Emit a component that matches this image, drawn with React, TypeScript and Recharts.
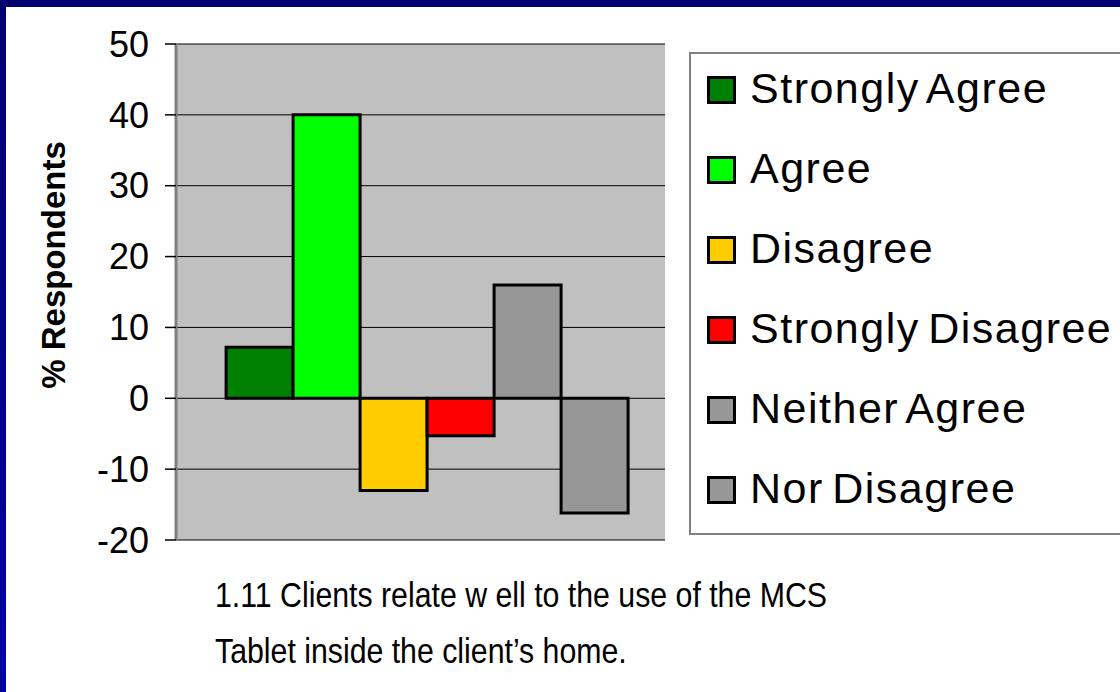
import { BarChart, Bar, XAxis, YAxis, CartesianGrid, Legend } from 'recharts';

const seriesNames = ['Strongly Agree', 'Agree', 'Disagree', 'Strongly Disagree', 'Neither Agree', 'Nor Disagree'];
const seriesKeys = ['sa', 'a', 'd', 'sd', 'na', 'nd'];
const seriesValues = [7.2, 40, -13, -5.3, 16, -16.2];
const seriesColors = ['#008000', '#00FF00', '#FFCC00', '#FF0000', '#969696', '#969696'];
const yTicks = [-20, -10, 0, 10, 20, 30, 40, 50];
const captionLines = ['1.11 Clients relate w ell to the use of the MCS', 'Tablet inside the client\u2019s home.'];

const row: Record<string, string | number> = { name: '1.11' };
seriesKeys.forEach((k, i) => {
  row[k] = seriesValues[i];
});
const data = [row];

const FONT = '"Liberation Sans", Arial, sans-serif';
const BORDER = '#808080';

function LegendBox() {
  return (
    <div
      style={{
        boxSizing: 'border-box',
        width: '100%',
        height: '100%',
        background: '#fff',
        border: `2px solid ${BORDER}`,
        borderRight: 'none',
        position: 'relative',
      }}
    >
      <div style={{ position: 'absolute', left: 0, top: -6 }}>
        {seriesNames.map((name, i) => (
          <div key={name} style={{ display: 'flex', alignItems: 'center', height: 80, paddingLeft: 16 }}>
            <span
              style={{
                display: 'inline-block',
                boxSizing: 'border-box',
                width: 29,
                height: 28,
                background: seriesColors[i],
                border: '3px solid #000',
                marginRight: 14,
                marginTop: 4,
              }}
            />
            <span
              style={{
                fontFamily: FONT,
                fontSize: 43,
                color: '#000',
                whiteSpace: 'nowrap',
                letterSpacing: 1.5,
                wordSpacing: -5,
              }}
            >
              {name}
            </span>
          </div>
        ))}
      </div>
    </div>
  );
}

export default function App() {
  return (
    <div
      style={{
        position: 'fixed',
        left: 0,
        top: 0,
        width: 1120,
        height: 692,
        background: '#fff',
        overflow: 'hidden',
      }}
    >
      {/* blue slide frame */}
      <div style={{ position: 'absolute', left: 0, top: 0, width: 1120, height: 7, background: '#000070' }} />
      <div
        style={{
          position: 'absolute',
          left: 0,
          top: 0,
          width: 6,
          height: 692,
          background: 'linear-gradient(#000070, #0000A8)',
        }}
      />
      <div style={{ position: 'absolute', left: 0, top: 0 }}>
        <BarChart
          width={1120}
          height={692}
          data={data}
          margin={{ top: 44, right: 455, bottom: 152, left: 0 }}
          barGap={0}
          barCategoryGap="7.6%"
        >
          <CartesianGrid vertical={false} stroke="#000" strokeWidth={1} fill="#C0C0C0" fillOpacity={1} />
          <XAxis
            dataKey="name"
            height={0}
            tick={false}
            tickLine={false}
            padding={{ left: 14, right: 0 }}
            axisLine={{ stroke: BORDER, strokeWidth: 3 }}
          />
          <XAxis
            xAxisId="top"
            orientation="top"
            dataKey="name"
            height={0}
            tick={false}
            tickLine={false}
            axisLine={{ stroke: BORDER, strokeWidth: 2 }}
          />
          <YAxis
            yAxisId="right"
            orientation="right"
            width={0}
            domain={[-20, 50]}
            tick={false}
            tickLine={false}
            axisLine={{ stroke: BORDER, strokeWidth: 3 }}
          />
          <YAxis
            width={176}
            domain={[-20, 50]}
            ticks={yTicks}
            interval={0}
            axisLine={{ stroke: BORDER, strokeWidth: 3 }}
            tickLine={{ stroke: '#000', strokeWidth: 1.5 }}
            tickSize={11}
            tickMargin={16}
            tick={{ fill: '#000', fontSize: 36, fontFamily: FONT }}
            label={() => (
              <text
                x={65}
                y={265}
                transform="rotate(-90 65 265)"
                textAnchor="middle"
                fontFamily={FONT}
                fontSize={33}
                fontWeight="bold"
                fill="#000"
              >
                % Respondents
              </text>
            )}
          />
          {seriesKeys.map((k, i) => (
            <Bar
              key={k}
              dataKey={k}
              name={seriesNames[i]}
              fill={seriesColors[i]}
              stroke="#000"
              strokeWidth={3}
              isAnimationActive={false}
            />
          ))}
          <Legend
            layout="horizontal"
            verticalAlign="middle"
            align="center"
            wrapperStyle={{ position: 'absolute', left: 689, top: 52, width: 440, height: 483 }}
            content={() => <LegendBox />}
          />
        </BarChart>
      </div>
      {captionLines.map((line, i) => (
        <div
          key={i}
          style={{
            position: 'absolute',
            left: 215,
            top: 575 + i * 56,
            fontFamily: FONT,
            fontSize: 35,
            color: '#000',
            whiteSpace: 'nowrap',
            transform: 'scaleX(0.865)',
            transformOrigin: 'left top',
          }}
        >
          {line}
        </div>
      ))}
    </div>
  );
}
